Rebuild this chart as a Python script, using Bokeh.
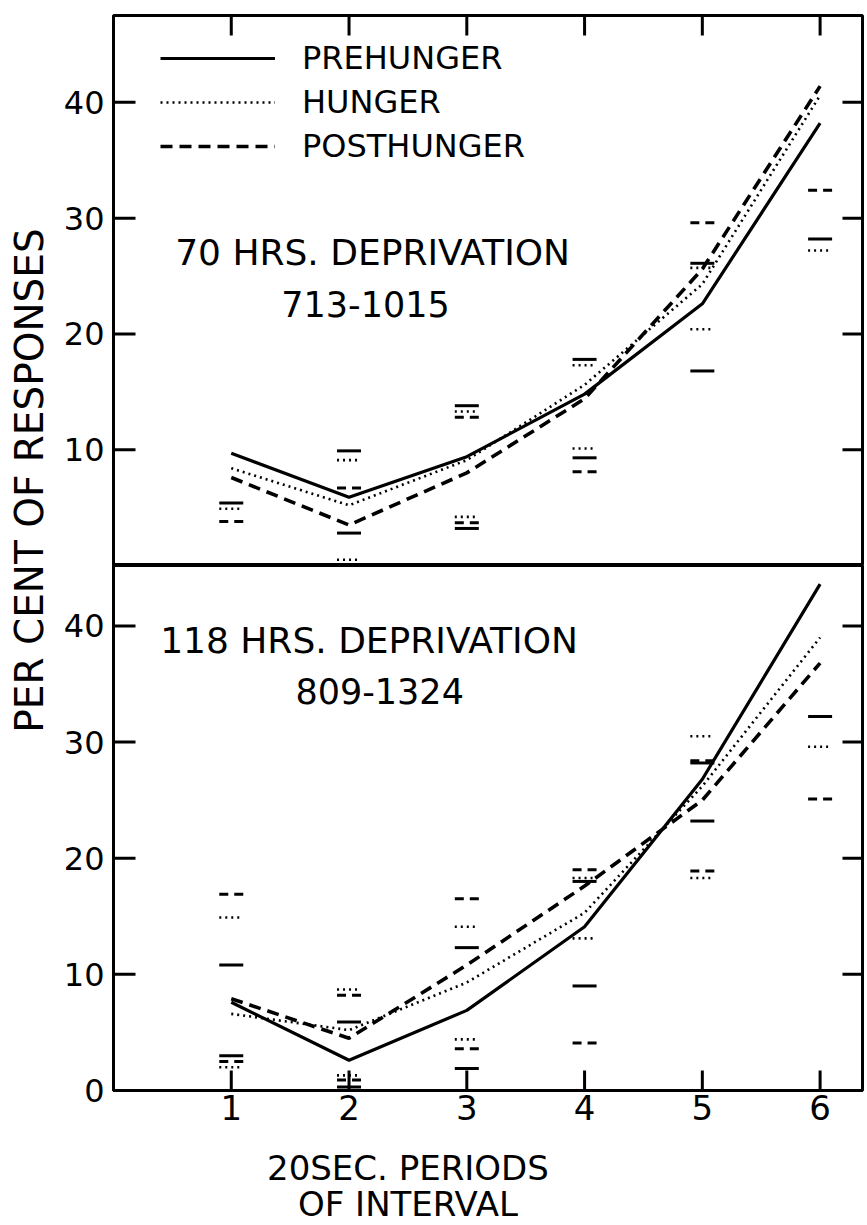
import numpy as np
from bokeh.plotting import figure
from bokeh.models import Range1d, LinearAxis, FixedTicker, Label, Legend, LegendItem
from bokeh.layouts import row, column
from bokeh.embed import file_html
from bokeh.resources import INLINE
from bokeh.core.properties import value

FONT = "DejaVu Sans"

# ---------------- data ----------------
periods = [1, 2, 3, 4, 5, 6]
x_tick_labels = ["1", "2", "3", "4", "5", "6"]
y_ticks_top = [10, 20, 30, 40]
y_ticks_bottom = [0, 10, 20, 30, 40]
series_names = ["PREHUNGER", "HUNGER", "POSTHUNGER"]

panel_top_title = ["70 HRS. DEPRIVATION", "713-1015"]
panel_bot_title = ["118 HRS. DEPRIVATION", "809-1324"]
x_title = ["20SEC. PERIODS", "OF INTERVAL"]
y_title = "PER CENT OF RESPONSES"

# 70 hrs deprivation (mean curves)
top_pre = [9.7, 5.9, 9.4, 14.8, 22.6, 38.2]
top_hun = [8.4, 5.2, 9.1, 15.6, 24.3, 40.6]
top_post = [7.6, 3.5, 8.0, 14.4, 25.6, 41.4]

# 118 hrs deprivation (mean curves)
bot_pre = [7.6, 2.6, 6.9, 14.1, 26.8, 43.6]
bot_hun = [6.6, 5.2, 9.3, 15.3, 26.2, 39.0]
bot_post = [7.9, 4.5, 10.8, 17.6, 25.0, 36.8]

# individual extreme values (short bars)
top_pre_mx = [1, 2, 2, 3, 3, 4, 4, 5, 5, 6]
top_pre_my = [5.4, 9.9, 2.8, 13.8, 3.2, 17.8, 9.3, 26.1, 16.8, 28.2]
top_hun_mx = [1, 2, 2, 3, 3, 4, 4, 5, 5, 6]
top_hun_my = [4.9, 9.1, 0.5, 13.3, 4.2, 17.3, 10.1, 25.7, 20.4, 27.2]
top_post_mx = [1, 2, 3, 3, 4, 5, 6]
top_post_my = [3.8, 6.7, 12.8, 3.7, 8.1, 29.6, 32.4]

bot_pre_mx = [1, 1, 2, 2, 3, 3, 4, 4, 5, 5, 6]
bot_pre_my = [10.8, 3.0, 5.9, 0.3, 12.3, 1.9, 18.0, 9.0, 28.2, 23.2, 32.2]
bot_hun_mx = [1, 1, 2, 2, 3, 3, 4, 4, 5, 5, 6]
bot_hun_my = [14.9, 2.0, 8.7, 1.3, 14.1, 4.4, 18.3, 13.1, 30.5, 18.3, 29.6]
bot_post_mx = [1, 1, 2, 2, 3, 3, 4, 4, 5, 5, 6]
bot_post_my = [16.9, 2.5, 8.2, 0.9, 16.5, 3.6, 19.0, 4.1, 28.4, 18.9, 25.1]

# ---------------- styles ----------------
X_END = 6.36
LINE_STYLES = {
    "PREHUNGER": dict(line_dash="solid", line_width=3.2),
    "HUNGER": dict(line_dash="2 4", line_width=2.6),
    "POSTHUNGER": dict(line_dash="12 7", line_width=3.6),
}
MARK_STYLES = {
    "PREHUNGER": dict(line_dash="solid", line_width=3),
    "HUNGER": dict(line_dash="2 4", line_width=2.6),
    "POSTHUNGER": dict(line_dash="9 6", line_width=3),
}


def no_grid(p):
    for g in p.grid:
        g.visible = False


def style_axis(ax, font_size="32px", standoff=9):
    ax.axis_line_width = 3
    ax.axis_line_color = "black"
    ax.major_tick_line_color = None
    ax.major_tick_in = 0
    ax.major_tick_out = 0
    ax.minor_tick_line_color = None
    ax.major_label_text_font = FONT
    ax.major_label_text_font_size = font_size
    ax.major_label_text_color = "black"
    ax.major_label_standoff = standoff


def make_panel(height, mb_top, mb_bottom, y_end, y_ticks):
    p = figure(width=804, height=height,
               x_range=Range1d(0, X_END), y_range=Range1d(0, y_end),
               output_backend="svg", toolbar_location=None,
               x_axis_location=None, y_axis_location=None,
               min_border_left=51, min_border_right=2,
               min_border_top=mb_top, min_border_bottom=mb_bottom)
    no_grid(p)
    p.outline_line_color = "black"
    p.outline_line_width = 3
    p.background_fill_color = "white"
    p.border_fill_color = "white"
    left = LinearAxis(ticker=FixedTicker(ticks=y_ticks, minor_ticks=[]))
    style_axis(left)
    p.add_layout(left, "left")
    # inward tick marks: dash markers centred on the frame edge, the outer
    # half is clipped away by the frame
    n = len(y_ticks)
    p.scatter([p.x_range.start] * n, y_ticks, marker="dash", size=44,
              line_color="black", line_width=3)
    p.scatter([p.x_range.end] * n, y_ticks, marker="dash", size=40,
              line_color="black", line_width=3)
    return p


def draw_series(p, curves, marks):
    rends = {}
    for name, ys in zip(series_names, curves):
        rends[name] = p.line(periods, ys, line_color="black", line_cap="butt",
                             **LINE_STYLES[name])
    for name, (mx, my) in zip(series_names, marks):
        p.scatter(mx, my, marker="dash", size=24, line_color="black",
                  **MARK_STYLES[name])
    return rends


# ---------------- top panel ----------------
top = make_panel(565, 15, 0, 47.5, y_ticks_top)
top.scatter(periods, [top.y_range.end] * len(periods), marker="dash", angle=np.pi / 2,
            size=40, line_color="black", line_width=3)

r_top = draw_series(top, [top_pre, top_hun, top_post],
                    [(top_pre_mx, top_pre_my), (top_hun_mx, top_hun_my),
                     (top_post_mx, top_post_my)])

legend = Legend(items=[LegendItem(label=value(n), renderers=[r_top[n]]) for n in series_names],
                location=(47, 399), orientation="vertical",
                glyph_width=115, glyph_height=40, label_height=40,
                label_standoff=27, spacing=4, padding=0, margin=0,
                border_line_alpha=0, background_fill_alpha=0,
                label_text_font=FONT, label_text_font_size="32px",
                label_text_color="black")
top.add_layout(legend)

top.add_layout(Label(x=2.2, y=27.0, text=panel_top_title[0], text_align="center",
                     text_baseline="middle", text_font=FONT, text_font_size="36px",
                     text_color="black"))
top.add_layout(Label(x=2.14, y=22.6, text=panel_top_title[1], text_align="center",
                     text_baseline="middle", text_font=FONT, text_font_size="35px",
                     text_color="black"))

# ---------------- bottom panel ----------------
bot = make_panel(570, 0, 45, 45.2, y_ticks_bottom)
below = LinearAxis(ticker=FixedTicker(ticks=periods, minor_ticks=[]),
                   major_label_overrides={p: l for p, l in zip(periods, x_tick_labels)})
style_axis(below, font_size="34px", standoff=4)
bot.add_layout(below, "below")
bot.scatter(periods, [bot.y_range.start] * len(periods), marker="dash", angle=np.pi / 2,
            size=40, line_color="black", line_width=3)

draw_series(bot, [bot_pre, bot_hun, bot_post],
            [(bot_pre_mx, bot_pre_my), (bot_hun_mx, bot_hun_my),
             (bot_post_mx, bot_post_my)])

bot.add_layout(Label(x=2.17, y=38.7, text=panel_bot_title[0], text_align="center",
                     text_baseline="middle", text_font=FONT, text_font_size="36px",
                     text_color="black"))
bot.add_layout(Label(x=2.26, y=34.4, text=panel_bot_title[1], text_align="center",
                     text_baseline="middle", text_font=FONT, text_font_size="35px",
                     text_color="black"))

# ---------------- x-axis title strip ----------------
xt = figure(width=804, height=88, x_range=Range1d(0, X_END), y_range=Range1d(0, 88),
            output_backend="svg", toolbar_location=None,
            x_axis_location=None, y_axis_location=None,
            min_border_left=51, min_border_right=2, min_border_top=0, min_border_bottom=0)
no_grid(xt)
xt.outline_line_color = None
xt.add_layout(Label(x=2.5, y=56, text=x_title[0], text_align="center",
                    text_baseline="middle", text_font=FONT, text_font_size="34px",
                    text_color="black"))
xt.add_layout(Label(x=2.5, y=20, text=x_title[1], text_align="center",
                    text_baseline="middle", text_font=FONT, text_font_size="34px",
                    text_color="black"))

# ---------------- y-axis title strip ----------------
lab = figure(width=60, height=1223, x_range=Range1d(0, 60), y_range=Range1d(0, 1223),
             output_backend="svg", toolbar_location=None,
             x_axis_location=None, y_axis_location=None, min_border=0)
no_grid(lab)
lab.outline_line_color = None
lab.add_layout(Label(x=29, y=1223 - 480, text=y_title, angle=np.pi / 2, text_align="center",
                     text_baseline="middle", text_font=FONT, text_font_size="39px",
                     text_color="black"))

layout = row(lab, column(top, bot, xt))

open("out.html", "w").write(file_html(layout, INLINE))
